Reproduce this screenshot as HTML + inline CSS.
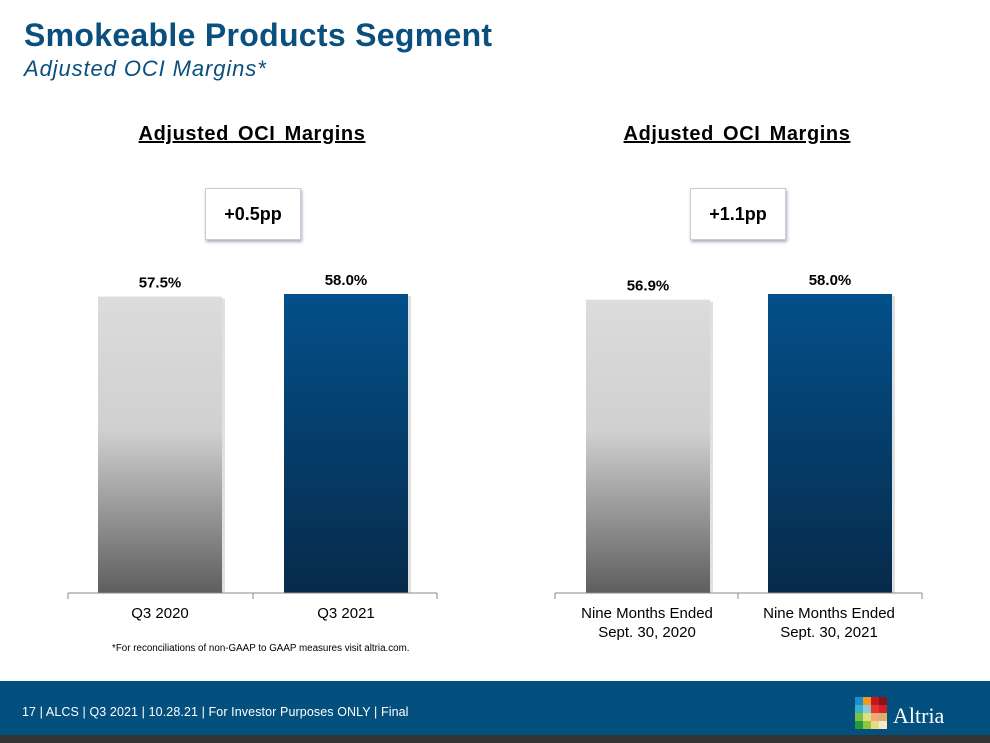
<!DOCTYPE html>
<html><head><meta charset="utf-8"><style>
body{margin:0;width:990px;height:743px;background:#fff;position:relative;overflow:hidden;font-family:"Liberation Sans",sans-serif}
.abs{position:absolute}
.title{left:24px;top:17px;font-size:32px;font-weight:bold;color:#0a4f7e;letter-spacing:0.3px}
.sub{left:24px;top:56px;font-size:22px;font-style:italic;color:#0a4f7e;letter-spacing:0.9px}
.ct{font-size:20px;font-weight:bold;text-decoration:underline;color:#000;text-align:center;width:320px;letter-spacing:0.6px;word-spacing:3px}
.box{border:1px solid #c8ccd2;box-shadow:1px 2px 3px #aab;background:#fff;font-size:18px;font-weight:bold;text-align:center;line-height:46px}
.cat{font-size:15px;text-align:center;width:180px;line-height:19px}
</style></head><body>
<div class="abs title">Smokeable Products Segment</div>
<div class="abs sub">Adjusted OCI Margins*</div>
<div class="abs ct" style="left:92px;top:123px">Adjusted OCI Margins</div>
<div class="abs ct" style="left:577px;top:123px">Adjusted OCI Margins</div>
<div class="abs box" style="left:205px;top:188px;width:94px;height:50px;line-height:50px">+0.5pp</div>
<div class="abs box" style="left:690px;top:188px;width:94px;height:50px;line-height:50px">+1.1pp</div>
<svg class="abs" style="left:0;top:0" width="990" height="680" id="chart">
<defs>
<linearGradient id="gg" x1="0" y1="0" x2="0" y2="1"><stop offset="0" stop-color="#dcdcdc"/><stop offset="0.45" stop-color="#d0d0d0"/><stop offset="1" stop-color="#5e5e5e"/></linearGradient>
<linearGradient id="gb" x1="0" y1="0" x2="0" y2="1"><stop offset="0" stop-color="#03508a"/><stop offset="1" stop-color="#072a4a"/></linearGradient>
</defs>
</svg>
<div class="abs cat" style="left:70px;top:604px">Q3 2020</div>
<div class="abs cat" style="left:256px;top:604px">Q3 2021</div>
<div class="abs cat" style="left:557px;top:604px">Nine Months Ended<br>Sept. 30, 2020</div>
<div class="abs cat" style="left:739px;top:604px">Nine Months Ended<br>Sept. 30, 2021</div>
<div class="abs" style="left:112px;top:643px;font-size:9.8px">*For reconciliations of non-GAAP to GAAP measures visit altria.com.</div>
<div class="abs" style="left:0;top:681px;width:990px;height:54px;background:#03507f"></div>
<div class="abs" style="left:0;top:735px;width:990px;height:8px;background:#333"></div>
<div class="abs" style="left:22px;top:705px;font-size:12.5px;color:#fff;letter-spacing:0.1px">17 | ALCS | Q3 2021 | 10.28.21 | For Investor Purposes ONLY | Final</div>
<svg class="abs" style="left:855px;top:697px" width="40" height="36">
<rect x="0" y="0" width="8" height="8" fill="#1c8fd0"/><rect x="8" y="-3" width="8" height="11" fill="#f39a1c"/><rect x="16" y="0" width="8" height="8" fill="#c6151c"/><rect x="24" y="0" width="8" height="8" fill="#8a1218"/>
<rect x="0" y="8" width="8" height="8" fill="#38b4c9"/><rect x="8" y="8" width="8" height="8" fill="#88c9e0"/><rect x="16" y="8" width="8" height="8" fill="#e5352b"/><rect x="24" y="8" width="8" height="8" fill="#d21e2a"/>
<rect x="0" y="16" width="8" height="8" fill="#7cc04a"/><rect x="8" y="16" width="8" height="8" fill="#d9e37a"/><rect x="16" y="16" width="8" height="8" fill="#f0a77a"/><rect x="24" y="16" width="8" height="8" fill="#d9b06e"/>
<rect x="0" y="24" width="8" height="8" fill="#1f9a3d"/><rect x="8" y="24" width="8" height="8" fill="#95c53b"/><rect x="16" y="24" width="8" height="8" fill="#e9d98a"/><rect x="24" y="24" width="8" height="8" fill="#f3ead0"/>
</svg>
<div class="abs" style="left:893px;top:703px;font-size:22px;color:#fff;font-family:'Liberation Serif',serif">Altria</div>
<script>
const categories=["Q3 2020","Q3 2021","Nine Months Ended Sept. 30, 2020","Nine Months Ended Sept. 30, 2021"];
const values=[57.5,58.0,56.9,58.0];
const labels=["57.5%","58.0%","56.9%","58.0%"];
const svg=document.getElementById('chart');
const NS='http://www.w3.org/2000/svg';
const base=593, pxPerUnit=299/58;
function y(v){return base-v*pxPerUnit;}
const barX=[98,284,586,768];
function mk(t,a){const e=document.createElementNS(NS,t);for(const k in a)e.setAttribute(k,a[k]);svg.appendChild(e);return e;}
values.forEach((v,i)=>{
  const r=mk('rect',{x:barX[i],y:y(v),width:124,height:base-y(v),fill:(i%2?'url(#gb)':'url(#gg)')});
  
  
  const sh=mk('rect',{x:barX[i]+124,y:y(v)+2,width:3,height:base-y(v)-2,fill:'#ccc',opacity:0.6});
  
  
  const t=mk('text',{x:barX[i]+62,y:y(v)-9,'text-anchor':'middle','font-size':15,'font-weight':'bold','font-family':'Liberation Sans, sans-serif'});
  t.textContent=labels[i];
  
  
});
[[68,253,437],[555,738,922]].forEach((ax,j)=>{
  const l=mk('line',{x1:ax[0],x2:ax[2],y1:base,y2:base,stroke:'#888','stroke-width':1});
  
  
  ax.forEach(x=>{const tk=mk('line',{x1:x,x2:x,y1:base,y2:base+6,stroke:'#888'});
    
    });
});
</script>
</body></html>
